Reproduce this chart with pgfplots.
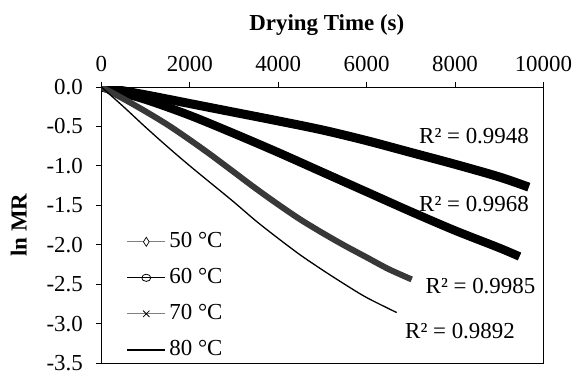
\documentclass[border=0pt]{standalone}
\usepackage{fontspec}
\setmainfont{Liberation Serif}
\usepackage{pgfplots}
\pgfplotsset{compat=1.18}
\begin{document}
\begin{tikzpicture}
\useasboundingbox (-101.4bp,-9bp) rectangle (472.6bp,363bp);
\begin{axis}[
  scale only axis, width=442bp, height=276bp,
  xmin=0, xmax=10000, ymin=-3.5, ymax=0,
  xtick={0,2000,4000,6000,8000,10000},
  ytick={-3.5,-3,-2.5,-2,-1.5,-1,-0.5,0},
  scaled x ticks=false,
  xtick pos=right, xticklabel pos=right, ytick pos=left,
  tick align=outside, major tick length=5bp,
  tick style={black, line width=0.8bp},
  axis line style={black, line width=0.9bp},
  /pgf/number format/assume math mode=true,
  xticklabel style={font=\fontsize{23}{27}\selectfont, /pgf/number format/1000 sep={}, yshift=7bp},
  yticklabel style={font=\fontsize{23}{27}\selectfont, /pgf/number format/fixed, /pgf/number format/fixed zerofill, /pgf/number format/precision=1, xshift=-10bp},
  xlabel={\textbf{Drying Time (s)}},
  ylabel={\textbf{ln MR}},
  every axis x label/.style={at={(axis description cs:0.51,1.2246)}, anchor=center, font=\fontsize{23}{27}\selectfont},
  every axis y label/.style={at={(axis description cs:-0.187,0.5)}, rotate=90, anchor=center, font=\fontsize{23}{27}\selectfont},
  legend style={draw=none, fill=none, inner sep=0pt, at={(rel axis cs:0,0)}, anchor=south west, xshift=24.6bp, yshift=2.5bp,
    font=\fontsize{23}{27}\selectfont, row sep=15bp,
    nodes={inner sep=0pt, text height=16bp, text depth=5bp},
    /tikz/every odd column/.append style={column sep=3bp}},
  legend cell align=left,
]
\addplot[black, line width=9bp, smooth,
  legend image code/.code={
    \draw[black!50, line width=1bp] (0bp,0bp) -- (38bp,0bp);
    \draw[black, line width=0.7bp] plot[mark=diamond*, mark size=4.5bp, mark options={fill=white, draw=black, xscale=0.85}] coordinates {(19bp,0bp)};
  }] table {
x y
0 0
1000 -0.10
2000 -0.21
3000 -0.32
4000 -0.43
5000 -0.545
6000 -0.68
7000 -0.83
8000 -0.98
9000 -1.14
9670 -1.27
};
\addlegendentry{50 °C}
\addplot[black, line width=8.5bp, smooth,
  legend image code/.code={
    \draw[black, line width=1bp] (0bp,0bp) -- (38bp,0bp);
    \draw[black, line width=0.8bp] plot[mark=o, mark size=4.5bp, mark options={draw=black, yscale=0.8}] coordinates {(19bp,0bp)};
  }] table {
x y
0 0
1000 -0.16
2000 -0.36
3000 -0.59
4000 -0.83
5000 -1.08
6000 -1.33
7000 -1.58
8000 -1.82
9000 -2.04
9460 -2.15
};
\addlegendentry{60 °C}
\addplot[black!78, line width=6bp, smooth,
  legend image code/.code={
    \draw[black!50, line width=1bp] (0bp,0bp) -- (38bp,0bp);
    \draw[black, line width=0.8bp] plot[mark=x, mark size=4.5bp, mark options={draw=black}] coordinates {(19bp,0bp)};
  }] table {
x y
0 0
500 -0.15
1000 -0.31
1500 -0.48
2000 -0.67
2500 -0.87
3000 -1.08
3500 -1.29
4000 -1.49
4500 -1.68
5000 -1.85
5500 -2.01
6000 -2.16
6500 -2.31
7020 -2.44
};
\addlegendentry{70 °C}
\addplot[black, line width=1.3bp, smooth,
  legend image code/.code={
    \draw[black, line width=2.2bp] (0bp,0bp) -- (38bp,0bp);
  }] table {
x y
0 0
500 -0.25
1000 -0.51
1500 -0.76
2000 -1.00
2500 -1.23
3000 -1.46
3500 -1.70
4000 -1.92
4500 -2.13
5000 -2.32
5500 -2.50
6000 -2.67
6680 -2.86
};
\addlegendentry{80 °C}
\node[font=\fontsize{23}{27}\selectfont] at (axis cs:8430,-0.625) {R² = 0.9948};
\node[font=\fontsize{23}{27}\selectfont] at (axis cs:8430,-1.49) {R² = 0.9968};
\node[font=\fontsize{23}{27}\selectfont] at (axis cs:8577,-2.53) {R² = 0.9985};
\node[font=\fontsize{23}{27}\selectfont] at (axis cs:8113,-3.10) {R² = 0.9892};
\end{axis}
\end{tikzpicture}
\end{document}
